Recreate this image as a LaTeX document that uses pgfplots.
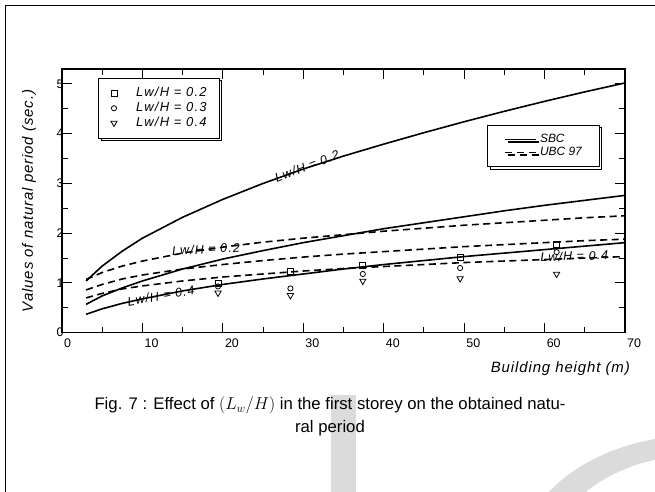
\documentclass[border=0pt]{standalone}
\usepackage{pgfplots}
\pgfplotsset{compat=1.18}
\usepackage{pgfplotstable}
\usepackage{fontspec}
\setmainfont{Liberation Sans}
\newfontfamily\labfont{Liberation Sans}[LetterSpace=6]
\newfontfamily\lwfont{Liberation Sans}[LetterSpace=9]
\usetikzlibrary{shadows}
\definecolor{wm}{gray}{0.86}

% curves: SBC (solid) and UBC 97 (dashed), Lw/H = 0.2, 0.3, 0.4
\pgfplotstableread{
h    sbcA sbcB sbcC ubcA ubcB ubcC
3    1.04 0.57 0.37 1.07 0.86 0.70
5    1.34 0.74 0.48 1.21 0.97 0.79
7.5  1.64 0.90 0.59 1.34 1.08 0.88
10   1.90 1.04 0.68 1.44 1.16 0.94
15   2.32 1.28 0.84 1.60 1.28 1.04
20   2.68 1.48 0.97 1.72 1.37 1.12
25   3.00 1.65 1.08 1.82 1.45 1.18
30   3.29 1.81 1.18 1.90 1.52 1.24
35   3.55 1.95 1.28 1.97 1.58 1.29
40   3.79 2.09 1.37 2.04 1.63 1.33
45   4.02 2.21 1.45 2.10 1.68 1.37
50   4.24 2.33 1.53 2.16 1.73 1.41
55   4.45 2.45 1.60 2.21 1.77 1.44
60   4.65 2.56 1.67 2.26 1.81 1.47
65   4.84 2.66 1.74 2.31 1.85 1.50
70   5.02 2.76 1.81 2.35 1.88 1.53
}\curves

% analysis points
\pgfplotstableread{
h    sq   ci   tr
19.4 1.00 0.93 0.80
28.4 1.23 0.89 0.75
37.4 1.35 1.18 1.04
49.5 1.52 1.30 1.09
61.5 1.78 1.62 1.18
}\pts

\begin{document}
\begin{tikzpicture}
\useasboundingbox (0,0) rectangle (655bp,492bp);
% watermark
\fill[wm] (331bp,0) rectangle (356bp,97bp);
\fill[wm,even odd rule] (700bp,-68bp) ellipse [x radius=180bp, y radius=125bp]
  (700bp,-68bp) ellipse [x radius=150bp, y radius=105bp];
% frame
\draw[line width=1.8bp] (5.5bp,0) -- (5.5bp,486.5bp) -- (656bp,486.5bp);

\pgfplotsset{
  base/.style={
    scale only axis, width=563bp, height=263.7bp,
    at={(62bp,159.3bp)}, anchor=south west,
    xmin=0, xmax=70, ymin=0, ymax=5.3,
  },
  lgd/.style={
    draw=black, fill=white, line width=0.7bp,
    drop shadow={shadow xshift=2.5bp, shadow yshift=-2.5bp, fill=white, draw=black, opacity=1},
    font=\lwfont\itshape\fontsize{13}{13}\selectfont,
    nodes={inner sep=0pt, text height=9bp, text depth=2.5bp},
    cells={anchor=west},
  },
}
\begin{axis}[base,
  axis line style={line width=1.3bp},
  tick style={line width=1bp, black},
  tick pos=both, xticklabel pos=lower, yticklabel pos=left,
  tick align=inside, major tick length=10bp, minor tick length=6bp,
  xtick={0,10,...,70}, ytick={0,1,...,5},
  minor x tick num=1, minor y tick num=1,
  /pgf/number format/assume math mode=true,
  xticklabel style={font=\fontsize{12.5}{12.5}\selectfont, anchor=north west, inner sep=0pt, xshift=2bp, yshift=-6bp},
  yticklabel style={font=\fontsize{12.5}{12.5}\selectfont, anchor=center, inner sep=0pt, xshift=-2bp},
  legend style={lgd, at={(0.064,0.966)}, anchor=north west,
    inner xsep=12.5bp, inner ysep=9.5bp, row sep=3.2bp, column sep=19bp},
]
\addplot[line width=1.6bp, forget plot] table[x=h,y=sbcA]{\curves};
\addplot[line width=1.6bp, forget plot] table[x=h,y=sbcB]{\curves};
\addplot[line width=1.6bp, forget plot] table[x=h,y=sbcC]{\curves};
\addplot[line width=1.6bp, dash pattern=on 7bp off 4.5bp, forget plot] table[x=h,y=ubcA]{\curves};
\addplot[line width=1.6bp, dash pattern=on 7bp off 4.5bp, forget plot] table[x=h,y=ubcB]{\curves};
\addplot[line width=1.6bp, dash pattern=on 7bp off 4.5bp, forget plot] table[x=h,y=ubcC]{\curves};

\addplot[only marks, mark=square, mark size=3bp, mark options={line width=0.8bp}] table[x=h,y=sq]{\pts};
\addplot[only marks, mark=o, mark size=2.6bp, mark options={line width=0.8bp}] table[x=h,y=ci]{\pts};
\addplot[only marks, mark=triangle, mark size=3.6bp, mark options={line width=0.8bp, rotate=180}] table[x=h,y=tr]{\pts};
\legend{Lw/H = 0.2, Lw/H = 0.3, Lw/H = 0.4}

\begin{scope}[every node/.style={font=\lwfont\itshape\fontsize{12.5}{12.5}\selectfont, inner sep=0pt}]
\node[rotate=20.8] at (axis cs:30.46,3.35) {Lw/H = 0.2};
\node[rotate=3] at (axis cs:17.9,1.68) {Lw/H = 0.2};
\node[rotate=10] at (axis cs:12.3,0.74) {Lw/H = 0.4};
\node[rotate=2] at (axis cs:63.7,1.54) {Lw/H = 0.4};
\end{scope}
\end{axis}

\begin{axis}[base, hide axis,
  legend style={lgd, at={(0.755,0.788)}, anchor=north west,
    inner xsep=17bp, inner ysep=8.5bp, row sep=1.5bp, column sep=3bp,
    font=\itshape\fontsize{12}{12}\selectfont},
  legend image code/.code={\draw[#1] (0bp,0bp) -- (31bp,0bp);},
]
\addlegendimage{line width=1.6bp}
\addlegendimage{line width=1.6bp, dash pattern=on 7bp off 5bp}
\legend{SBC, UBC 97}
\end{axis}

% axis titles
\node[anchor=east, inner sep=0pt, font=\labfont\itshape\fontsize{15}{15}\selectfont]
  at (630bp,123.5bp) {Building height (m)};
\node[rotate=90, inner sep=0pt, font=\labfont\itshape\fontsize{15}{15}\selectfont]
  at (29bp,291bp) {Values of natural period (sec.)};
% caption
\node[align=center, font=\fontsize{16.8}{23}\selectfont] at (330bp,75.5bp)
  {Fig. 7 : Effect of $(L_w/H)$ in the first storey on the obtained natu-\\ral period};
\end{tikzpicture}
\end{document}
